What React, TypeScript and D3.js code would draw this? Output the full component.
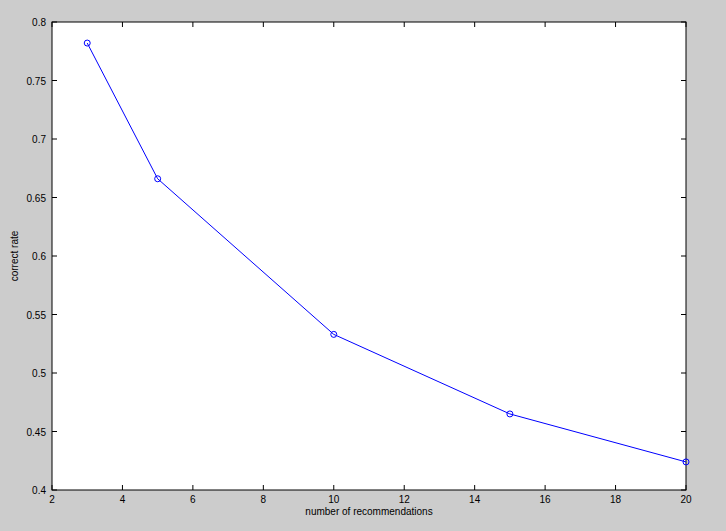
import React from "react";
import * as d3 from "d3";

const xValues = [3, 5, 10, 15, 20];
const yValues = [0.782, 0.666, 0.533, 0.465, 0.424];
const xTicks = [2, 4, 6, 8, 10, 12, 14, 16, 18, 20];
const yTicks = [0.4, 0.45, 0.5, 0.55, 0.6, 0.65, 0.7, 0.75, 0.8];

const W = 726;
const H = 531;
const L = 52;
const R = 686;
const T = 22;
const B = 490;

export default function App() {
  const x = d3.scaleLinear().domain([2, 20]).range([L, R]);
  const y = d3.scaleLinear().domain([0.4, 0.8]).range([B, T]);
  const line = d3
    .line<number>()
    .x((_, i) => x(xValues[i]))
    .y((d) => y(d));
  const font = "'Liberation Sans', Arial, sans-serif";
  const tl = 5;
  return (
    <svg
      width={W}
      height={H}
      style={{ position: "absolute", left: 0, top: 0 }}
      fontFamily={font}
    >
      <rect x={0} y={0} width={W} height={H} fill="#cccccc" />
      <rect x={L} y={T} width={R - L} height={B - T} fill="#ffffff" />
      {xTicks.map((t) => (
        <g key={"x" + t}>
          <line x1={x(t)} x2={x(t)} y1={B} y2={B - tl} stroke="#000" />
          <line x1={x(t)} x2={x(t)} y1={T} y2={T + tl} stroke="#000" />
          <text x={x(t)} y={503} fontSize={10} textAnchor="middle" fill="#000">
            {t}
          </text>
        </g>
      ))}
      {yTicks.map((t) => (
        <g key={"y" + t}>
          <line x1={L} x2={L + tl} y1={y(t)} y2={y(t)} stroke="#000" />
          <line x1={R} x2={R - tl} y1={y(t)} y2={y(t)} stroke="#000" />
          <text x={46} y={y(t) + 4} fontSize={10} textAnchor="end" fill="#000">
            {String(t)}
          </text>
        </g>
      ))}
      <rect x={L} y={T} width={R - L} height={B - T} fill="none" stroke="#000" strokeWidth={1} />
      <path d={line(yValues) || ""} fill="none" stroke="#0000ff" strokeWidth={1} />
      {yValues.map((v, i) => (
        <circle key={i} cx={x(xValues[i])} cy={y(v)} r={3} fill="none" stroke="#0000ff" strokeWidth={1} />
      ))}
      <text x={(L + R) / 2} y={515} fontSize={10} textAnchor="middle" fill="#000">
        number of recommendations
      </text>
      <text
        transform={`translate(18, ${(T + B) / 2}) rotate(-90)`}
        fontSize={10}
        textAnchor="middle"
        fill="#000"
      >
        correct rate
      </text>
    </svg>
  );
}
